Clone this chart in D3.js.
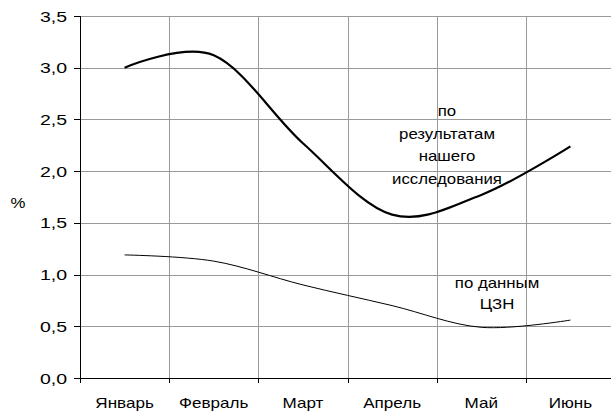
<!DOCTYPE html>
<html>
<head>
<meta charset="utf-8">
<script src="https://cdn.jsdelivr.net/npm/d3@7"></script>
<style>
  body { margin: 0; background: #fff; }
  text { font-family: "Liberation Sans", Arial, sans-serif; fill: #000; }
</style>
</head>
<body>
<svg id="chart"></svg>
<script>
// data
const months = ["Январь", "Февраль", "Март", "Апрель", "Май", "Июнь"];
const ours = [3.0, 3.12, 2.27, 1.58, 1.77, 2.24];   // по результатам нашего исследования
const czn = [1.19, 1.13, 0.9, 0.7, 0.49, 0.56];     // по данным ЦЗН
const yTicks = [0, 0.5, 1, 1.5, 2, 2.5, 3, 3.5];
const oursLabel = ["по", "результатам", "нашего", "исследования"];
const cznLabel = ["по данным", "ЦЗН"];

const width = 611, height = 413;
const m = { left: 80, right: 615, top: 16, bottom: 378 };

const svg = d3.select("#chart").attr("width", width).attr("height", height);

const x = d3.scaleBand().domain(months).range([m.left, m.right]);
const y = d3.scaleLinear().domain([0, 3.5]).range([m.bottom, m.top]);

// helper for text, the source picture is stretched sideways
const label = (g, tx, ty, str, anchor, size, sx) => {
  g.append("text")
    .attr("transform", `translate(${tx},${ty}) scale(${sx},1)`)
    .attr("text-anchor", anchor)
    .attr("font-size", size)
    .text(str);
};

// grid
const grid = svg.append("g").attr("stroke", "#9a9a9a").attr("stroke-width", 1);
grid.selectAll("line.h")
  .data(yTicks.filter(d => d > 0))
  .join("line")
  .attr("x1", m.left).attr("x2", m.right)
  .attr("y1", d => Math.round(y(d)) + 0.5).attr("y2", d => Math.round(y(d)) + 0.5);
grid.selectAll("line.v")
  .data(months.slice(1))
  .join("line")
  .attr("x1", d => Math.round(x(d)) + 0.5).attr("x2", d => Math.round(x(d)) + 0.5)
  .attr("y1", m.top).attr("y2", m.bottom);

// axes
const axes = svg.append("g").attr("stroke", "#000").attr("stroke-width", 1);
axes.append("line").attr("x1", m.left + 0.5).attr("x2", m.left + 0.5).attr("y1", m.top).attr("y2", m.bottom + 5);
axes.append("line").attr("x1", m.left).attr("x2", m.right).attr("y1", m.bottom + 0.5).attr("y2", m.bottom + 0.5);
axes.selectAll("line.yt")
  .data(yTicks)
  .join("line")
  .attr("x1", m.left - 6).attr("x2", m.left)
  .attr("y1", d => Math.round(y(d)) + 0.5).attr("y2", d => Math.round(y(d)) + 0.5);
axes.selectAll("line.xt")
  .data(months.slice(1))
  .join("line")
  .attr("x1", d => Math.round(x(d)) + 0.5).attr("x2", d => Math.round(x(d)) + 0.5)
  .attr("y1", m.bottom).attr("y2", m.bottom + 5);

// tick labels
const tl = svg.append("g");
yTicks.forEach(d => label(tl, 67, y(d) + 5.5, d.toFixed(1).replace(".", ","), "end", 15, 1.3));
months.forEach(mo => label(tl, x(mo) + x.bandwidth() / 2, 408, mo, "middle", 14, 1.22));
label(tl, 18, 208, "%", "middle", 14, 1.2);

// lines
const line = d3.line()
  .x((d, i) => x(months[i]) + x.bandwidth() / 2)
  .y(d => y(d))
  .curve(d3.curveCardinal.tension(0));

svg.append("path").datum(ours)
  .attr("fill", "none").attr("stroke", "#000").attr("stroke-width", 2.2)
  .attr("d", line);
svg.append("path").datum(czn)
  .attr("fill", "none").attr("stroke", "#000").attr("stroke-width", 1)
  .attr("d", line);

// annotations
const ann = svg.append("g");
oursLabel.forEach((s, i) => label(ann, 447, 116 + i * 22.5, s, "middle", 14, 1.2));
cznLabel.forEach((s, i) => label(ann, 497, 288 + i * 21, s, "middle", 14, 1.2));
</script>
</body>
</html>
